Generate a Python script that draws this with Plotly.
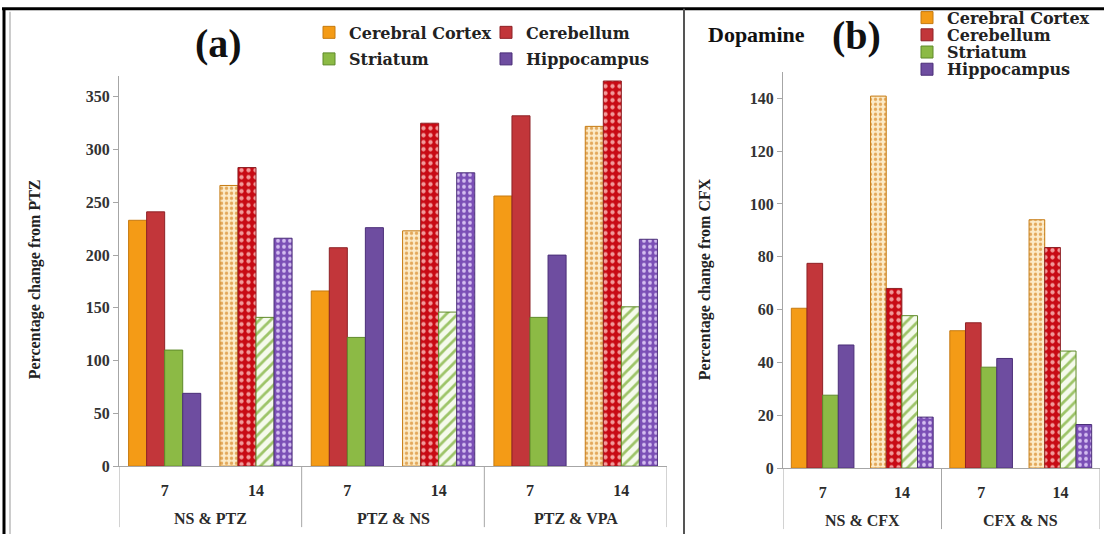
import plotly.graph_objects as go

# ---- data -------------------------------------------------------------
regions = ["Cerebral Cortex", "Cerebellum", "Striatum", "Hippocampus"]

a_groups = ["NS & PTZ", "NS & PTZ", "PTZ & NS", "PTZ & NS", "PTZ & VPA", "PTZ & VPA"]
a_days = ["7", "14", "7", "14", "7", "14"]
a_cortex = [233, 266, 166, 223, 256, 322]
a_cerebellum = [241, 283, 207, 325, 332, 365]
a_striatum = [110, 141, 122, 146, 141, 151]
a_hippocampus = [69, 216, 226, 278, 200, 215]

b_groups = ["NS & CFX", "NS & CFX", "CFX & NS", "CFX & NS"]
b_days = ["7", "14", "7", "14"]
b_cortex = [60.5, 140.8, 52, 94]
b_cerebellum = [77.5, 68, 55, 83.5]
b_striatum = [27.6, 57.7, 38.2, 44.3]
b_hippocampus = [46.6, 19.3, 41.5, 16.5]

a_ticks = [0, 50, 100, 150, 200, 250, 300, 350]
b_ticks = [0, 20, 40, 60, 80, 100, 120, 140]

# ---- styling ------------------------------------------------------------
W, H = 1104, 543
SERIF = "Liberation Serif"

solid = {
    "Cerebral Cortex": "#F49B16",
    "Cerebellum": "#C2363A",
    "Striatum": "#8CBA45",
    "Hippocampus": "#6E4DA0",
}
edge = {
    "Cerebral Cortex": "#C67A10",
    "Cerebellum": "#8E2226",
    "Striatum": "#5F8A2A",
    "Hippocampus": "#4B2F78",
}
# day-14 bars are drawn with textured fills
texture = {
    "Cerebral Cortex": dict(shape=".", bg="#FCEBC8", fg="#E3A85A", size=5, solidity=0.35),
    "Cerebellum": dict(shape=".", bg="#C80A14", fg="#F29A9A", size=7, solidity=0.3),
    "Striatum": dict(shape="/", bg="#F5FAEC", fg="#9DC468", size=8, solidity=0.35),
    "Hippocampus": dict(shape=".", bg="#7B4FB6", fg="#D4BEF0", size=6, solidity=0.32),
}


def px_x(x):
    return x / W


def px_y(y):
    return 1 - y / H


def keys(groups, days):
    # one category per (treatment, day) pair
    return [f"{g} | {d}" for g, d in zip(groups, days)]


def bar_trace(name, groups, days, values, xaxis, yaxis, legend):
    t = texture[name]
    shapes = [t["shape"] if d == "14" else "" for d in days]
    return go.Bar(
        name=name,
        x=keys(groups, days),
        y=values,
        xaxis=xaxis,
        yaxis=yaxis,
        legend=legend,
        showlegend=True,
        marker=dict(
            color=solid[name],
            line=dict(color=edge[name], width=1),
            pattern=dict(
                shape=shapes,
                bgcolor=[t["bg"]] * len(days),
                fgcolor=[t["fg"]] * len(days),
                size=t["size"],
                solidity=t["solidity"],
                fillmode="replace",
            ),
        ),
    )


fig = go.Figure()

a_series = [a_cortex, a_cerebellum, a_striatum, a_hippocampus]
b_series = [b_cortex, b_cerebellum, b_striatum, b_hippocampus]
a_legends = ["legend", "legend2", "legend3", "legend4"]
b_legends = ["legend5", "legend6", "legend7", "legend8"]

for name, vals, lg in zip(regions, a_series, a_legends):
    fig.add_trace(bar_trace(name, a_groups, a_days, vals, "x", "y", lg))
for name, vals, lg in zip(regions, b_series, b_legends):
    fig.add_trace(bar_trace(name, b_groups, b_days, vals, "x2", "y2", lg))

LINE = "#A6A6A6"
axis_font = dict(family=SERIF, size=16, color="#2B2B2B", weight="bold")


def xaxis_cfg(groups, days, domain, anchor):
    return dict(
        type="category",
        domain=domain,
        anchor=anchor,
        tickvals=keys(groups, days),
        ticktext=days,
        showline=True,
        linecolor=LINE,
        linewidth=1,
        ticks="outside",
        ticklen=10,
        tickcolor="rgba(0,0,0,0)",
        tickfont=axis_font,
        showgrid=False,
        zeroline=False,
        range=[-0.5, len(days) - 0.5],
    )


ycommon = dict(
    showline=True,
    linecolor=LINE,
    linewidth=1,
    ticks="outside",
    ticklen=5,
    tickcolor=LINE,
    tickfont=dict(family=SERIF, size=16, color="#333333", weight="bold"),
    showgrid=False,
    zeroline=False,
)

fig.update_layout(
    width=W,
    height=H,
    margin=dict(l=0, r=0, t=0, b=0),
    paper_bgcolor="white",
    plot_bgcolor="white",
    showlegend=True,
    barmode="group",
    bargap=0.21,
    bargroupgap=0,
    xaxis=xaxis_cfg(a_groups, a_days, [px_x(119), px_x(667)], "y"),
    yaxis=dict(ycommon, domain=[px_y(474), px_y(77)], range=[0, 370],
               tickvals=a_ticks, anchor="x"),
    xaxis2=xaxis_cfg(b_groups, b_days, [px_x(783), px_x(1100)], "y2"),
    yaxis2=dict(ycommon, domain=[px_y(476), px_y(73)], range=[0, 150],
                tickvals=b_ticks, anchor="x2"),
)

# treatment labels under each pair of days, with divider lines between them
for xref, groups, axis_y in (("x", a_groups, 474), ("x2", b_groups, 476)):
    names = list(dict.fromkeys(groups))
    for k, g in enumerate(names):
        fig.add_annotation(xref=xref, yref="paper", x=2 * k + 0.5, y=px_y(axis_y + 53),
                           text=g, showarrow=False, xanchor="center", yanchor="middle",
                           font=axis_font)
    for k in range(len(names) + 1):
        fig.add_shape(type="line", xref=xref, yref="paper",
                      x0=2 * k - 0.5, x1=2 * k - 0.5,
                      y0=px_y(axis_y), y1=px_y(axis_y + 62),
                      line=dict(color=LINE, width=1))

# legend entries: 2x2 block for panel (a), single column for panel (b)
leg_font = dict(family="DejaVu Serif", size=16, color="#222222", weight="bold")
leg_base = dict(bgcolor="rgba(0,0,0,0)", font=leg_font, itemwidth=30,
                xanchor="left", yanchor="middle", tracegroupgap=0)
a_spots = [(309, 33), (486, 33), (309, 60), (486, 60)]
b_spots = [(907, 18), (907, 35.5), (907, 53), (907, 70.5)]
for lg, (lx, ly) in zip(a_legends + b_legends, a_spots + b_spots):
    fig.update_layout({lg: dict(leg_base, x=px_x(lx), y=px_y(ly))})

# panel labels and axis titles
ann = [
    dict(text="(a)", x=px_x(218), y=px_y(44), font=dict(family=SERIF, size=40, color="#111", weight="bold")),
    dict(text="(b)", x=px_x(856), y=px_y(36), font=dict(family=SERIF, size=40, color="#111", weight="bold")),
    dict(text="Dopamine", x=px_x(756), y=px_y(35), font=dict(family=SERIF, size=22, color="#111", weight="bold")),
    dict(text="Percentage change from PTZ", x=px_x(35), y=px_y(284), textangle=-90,
         font=dict(family=SERIF, size=16, color="#222", weight="bold")),
    dict(text="Percentage change from CFX", x=px_x(705), y=px_y(284), textangle=-90,
         font=dict(family=SERIF, size=16, color="#222", weight="bold")),
]
for a in ann:
    fig.add_annotation(xref="paper", yref="paper", showarrow=False,
                       xanchor="center", yanchor="middle", **a)

# frame lines around the two panels
frame = [
    dict(x0=px_x(2), x1=1, y0=px_y(9), y1=px_y(9), line=dict(color="#000", width=3)),
    dict(x0=px_x(4), x1=px_x(4), y0=px_y(9), y1=0, line=dict(color="#000", width=3)),
    dict(x0=px_x(10), x1=px_x(10), y0=px_y(12), y1=0, line=dict(color="#9A9A9A", width=1)),
    dict(x0=px_x(684), x1=px_x(684), y0=px_y(9), y1=0, line=dict(color="#555", width=2)),
]
for s in frame:
    fig.add_shape(type="line", xref="paper", yref="paper", **s)

fig.write_html("out.html")
